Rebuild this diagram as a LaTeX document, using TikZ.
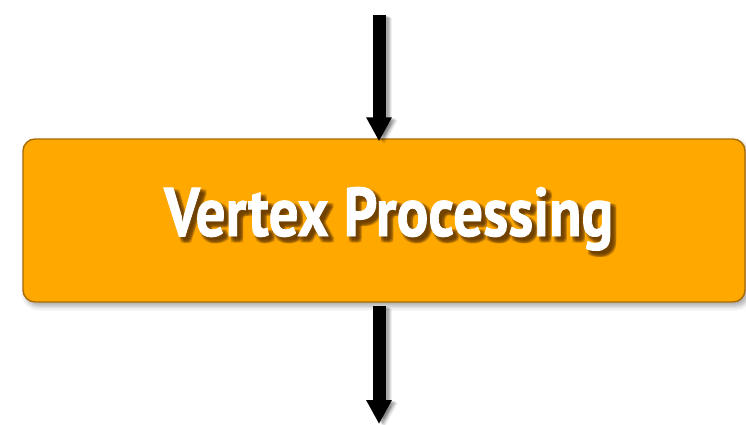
\documentclass[tikz,border=0pt]{standalone}
\usepackage{fontspec}
\usepackage{graphicx}
\usetikzlibrary{arrows.meta,shadows.blur}
\newfontfamily\labelfont[FakeBold=1.2]{PT Sans}

\definecolor{stageorange}{RGB}{255,168,0}
\definecolor{stageedge}{RGB}{168,108,0}
\definecolor{textshade}{RGB}{100,58,0}

% stage title, squeezed to a condensed look
\newcommand\stagetitle{\resizebox{449pt}{49pt}{\labelfont\bfseries Vertex Processing}}

\tikzset{
  stagebox/.style={draw=stageedge, line width=1.4pt, fill=stageorange,
    rounded corners=12pt, inner sep=0pt,
    minimum width=722pt, minimum height=163pt,
    blur shadow={shadow xshift=3pt, shadow yshift=-4pt,
      shadow blur radius=5pt, shadow opacity=35}},
  flowarrow/.style={line width=13pt, -{Triangle[width=24pt,length=24pt]}},
  flowshade/.style={flowarrow, draw=black, opacity=0.05},
  titletext/.style={anchor=base west, inner sep=0pt, text=white},
}

\begin{document}
\begin{tikzpicture}[x=1pt,y=1pt]
  \useasboundingbox (0,0) rectangle (746,424);

  % the processing stage
  \node[stagebox] (stage) at (384,203.5) {};

  % incoming and outgoing data
  \coordinate (feed) at (379,409);
  \coordinate (drain) at (379,0);
  \coordinate (inTip) at ([yshift=-3pt]feed |- stage.north);
  \coordinate (outStart) at ([yshift=-3pt]feed |- stage.south);

  % soft shadows of the arrows
  \foreach \dx/\dy in {2/-1,3/-2,4/-2,5/-3,6/-3,4/-1,5/-2,3/-1} {
    \draw[flowshade] ([shift={(\dx,\dy)}]feed) -- ([shift={(\dx,\dy)}]inTip);
    \draw[flowshade] ([shift={(\dx,\dy)}]outStart) -- ([shift={(\dx,\dy)}]drain);
  }
  \draw[flowarrow] (feed) -- (inTip);
  \draw[flowarrow] (outStart) -- (drain);

  % title with a blurred drop shadow
  \foreach \dx in {2,3,4,5,6} {
    \foreach \dy in {2,3,4,5,6} {
      \node[titletext, text=textshade, text opacity=0.08] at (164+\dx,188-\dy) {\stagetitle};
    }
  }
  \node[titletext] (title) at (164,188) {\stagetitle};
\end{tikzpicture}
\end{document}
